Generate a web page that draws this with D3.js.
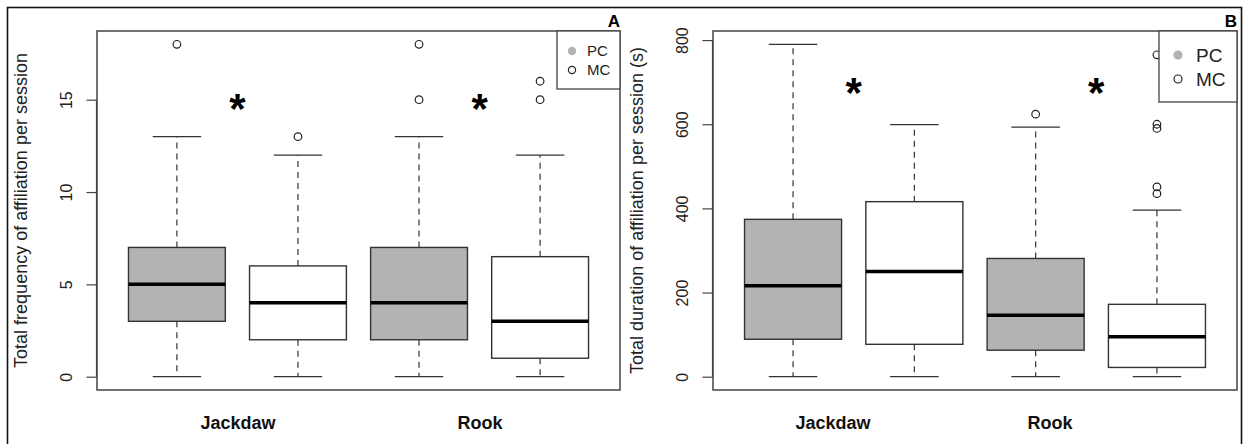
<!DOCTYPE html>
<html>
<head>
<meta charset="utf-8">
<script src="https://cdn.jsdelivr.net/npm/d3@7"></script>
<style>
  html, body { margin: 0; padding: 0; background: #fff; }
  svg { display: block; font-family: "Liberation Sans", Arial, Helvetica, sans-serif; }
</style>
</head>
<body>
<svg id="chart" width="1244" height="444"></svg>
<script>
// ---------- data ----------
const categories = ["Jackdaw", "Rook"];
const conditions = ["PC", "MC"];
const positions = [1, 2, 3, 4]; // Jackdaw-PC, Jackdaw-MC, Rook-PC, Rook-MC

// Panel A: total frequency of affiliation per session
const freqMin = [0, 0, 0, 0];
const freqQ1 = [3, 2, 2, 1];
const freqMedian = [5, 4, 4, 3];
const freqQ3 = [7, 6, 7, 6.5];
const freqMax = [13, 12, 13, 12];
const freqOutliers = [[18], [13], [15, 18], [15, 16]];
const freqTicks = [0, 5, 10, 15];

// Panel B: total duration of affiliation per session (s)
const durMin = [0, 0, 0, 0];
const durQ1 = [89, 77, 63, 22];
const durMedian = [216, 250, 146, 95];
const durQ3 = [374, 416, 281, 172];
const durMax = [790, 599, 593, 396];
const durOutliers = [[], [], [624], [435, 451, 590, 600, 765]];
const durTicks = [0, 200, 400, 600, 800];

const fills = ["#b3b3b3", "#ffffff"];

// ---------- drawing ----------
const svg = d3.select("#chart");

// outer frame
svg.append("rect").attr("x", 7.5).attr("y", 7.5).attr("width", 1234).attr("height", 450)
  .attr("fill", "none").attr("stroke", "#111").attr("stroke-width", 1.6);

function panel(cfg) {
  const g = svg.append("g");
  const x = d3.scaleLinear().domain([0.34, 4.66]).range([cfg.left, cfg.right]);
  const lo = d3.min(cfg.mins), hi = d3.max([...cfg.maxs, ...cfg.outliers.flat()]);
  const pad = (hi - lo) * 0.04;
  const y = d3.scaleLinear().domain([lo - pad, hi + pad]).range([cfg.bottom, cfg.top]);
  const hw = 0.4, sw = 0.2;

  positions.forEach((p, i) => {
    const cx = x(p);
    // whiskers (dashed)
    g.append("line").attr("x1", cx).attr("x2", cx).attr("y1", y(cfg.q3[i])).attr("y2", y(cfg.maxs[i]))
      .attr("stroke", "#333").attr("stroke-width", 1.2).attr("stroke-dasharray", "6,5");
    g.append("line").attr("x1", cx).attr("x2", cx).attr("y1", y(cfg.q1[i])).attr("y2", y(cfg.mins[i]))
      .attr("stroke", "#333").attr("stroke-width", 1.2).attr("stroke-dasharray", "6,5");
    // staples
    [cfg.maxs[i], cfg.mins[i]].forEach(v => {
      g.append("line").attr("x1", x(p - sw)).attr("x2", x(p + sw)).attr("y1", y(v)).attr("y2", y(v))
        .attr("stroke", "#333").attr("stroke-width", 1.3);
    });
    // box
    g.append("rect").attr("x", x(p - hw)).attr("width", x(p + hw) - x(p - hw))
      .attr("y", y(cfg.q3[i])).attr("height", y(cfg.q1[i]) - y(cfg.q3[i]))
      .attr("fill", fills[i % 2]).attr("stroke", "#333").attr("stroke-width", 1.4);
    // median
    g.append("line").attr("x1", x(p - hw)).attr("x2", x(p + hw)).attr("y1", y(cfg.med[i])).attr("y2", y(cfg.med[i]))
      .attr("stroke", "#000").attr("stroke-width", 3.5);
    // outliers
    cfg.outliers[i].forEach(v => {
      g.append("circle").attr("cx", cx).attr("cy", y(v)).attr("r", 3.8)
        .attr("fill", "none").attr("stroke", "#222").attr("stroke-width", 1.2);
    });
  });

  // plot frame
  g.append("rect").attr("x", cfg.left).attr("y", cfg.top).attr("width", cfg.right - cfg.left)
    .attr("height", cfg.bottom - cfg.top).attr("fill", "none").attr("stroke", "#444").attr("stroke-width", 1.5);

  // y axis
  const axis = d3.axisLeft(y).tickValues(cfg.ticks).tickSize(10).tickPadding(0).tickSizeOuter(0);
  const ag = g.append("g").attr("transform", `translate(${cfg.left - 0.5},0)`).call(axis);
  ag.select(".domain").attr("stroke", "#444").attr("stroke-width", 1.2)
    .attr("d", `M0,${y(cfg.ticks[0])}V${y(cfg.ticks[cfg.ticks.length - 1])}`);
  ag.selectAll(".tick line").attr("stroke", "#444").attr("stroke-width", 1.2);
  ag.selectAll(".tick text")
    .attr("x", null).attr("dy", null)
    .attr("transform", `translate(${cfg.tickBase - cfg.left},0) rotate(-90)`)
    .attr("text-anchor", "middle")
    .attr("fill", "#222").style("font-size", "16px").style("font-family", "'Liberation Sans', Arial, sans-serif");

  // y title
  g.append("text")
    .attr("transform", `translate(${cfg.titleBase},${(cfg.top + cfg.bottom) / 2}) rotate(-90)`)
    .attr("text-anchor", "middle").attr("fill", "#222").style("font-size", "18px")
    .text(cfg.title);

  // category labels
  categories.forEach((c, k) => {
    g.append("text").attr("x", cfg.catX[k]).attr("y", 429).attr("text-anchor", "middle")
      .attr("font-weight", "bold").style("font-size", "18px").attr("fill", "#111").text(c);
  });

  // significance asterisks
  [1.5, 3.5].forEach(p => {
    g.append("text").attr("x", x(p)).attr("y", y(cfg.starVal) + 23).attr("text-anchor", "middle")
      .attr("font-weight", "bold").style("font-size", "42px").attr("fill", "#000").text("*");
  });

  // panel letter
  g.append("text").attr("x", cfg.right).attr("y", 27).attr("text-anchor", "end")
    .attr("font-weight", "bold").style("font-size", "17px").attr("fill", "#000").text(cfg.letter);

  // legend
  const L = cfg.legend;
  g.append("rect").attr("x", L.x).attr("y", cfg.top).attr("width", cfg.right - L.x).attr("height", L.h)
    .attr("fill", "#fff").attr("stroke", "#444").attr("stroke-width", 1.3);
  conditions.forEach((c, k) => {
    const cy = L.y0 + k * L.dy;
    if (k === 0) {
      g.append("circle").attr("cx", L.px).attr("cy", cy).attr("r", L.r + 0.6).attr("fill", "#b3b3b3");
    } else {
      g.append("circle").attr("cx", L.px).attr("cy", cy).attr("r", L.r).attr("fill", "none")
        .attr("stroke", "#222").attr("stroke-width", 1.2);
    }
    g.append("text").attr("x", L.tx).attr("y", cy).attr("dy", "0.36em").style("font-size", L.fs + "px")
      .attr("fill", "#222").text(c);
  });
}

panel({
  left: 97, right: 620, top: 31, bottom: 390,
  mins: freqMin, q1: freqQ1, med: freqMedian, q3: freqQ3, maxs: freqMax, outliers: freqOutliers,
  ticks: freqTicks, tickBase: 72, titleBase: 27,
  title: "Total frequency of affiliation per session",
  catX: [238, 480], starVal: 15, letter: "A",
  legend: { x: 557, h: 58, px: 572, y0: 51, dy: 19, tx: 587, fs: 15, r: 3.6 }
});

panel({
  left: 713, right: 1237, top: 31, bottom: 390,
  mins: durMin, q1: durQ1, med: durMedian, q3: durQ3, maxs: durMax, outliers: durOutliers,
  ticks: durTicks, tickBase: 688, titleBase: 643,
  title: "Total duration of affiliation per session (s)",
  catX: [833, 1050], starVal: 695, letter: "B",
  legend: { x: 1159, h: 71, px: 1178, y0: 55, dy: 24, tx: 1196, fs: 19, r: 4 }
});
</script>
</body>
</html>
